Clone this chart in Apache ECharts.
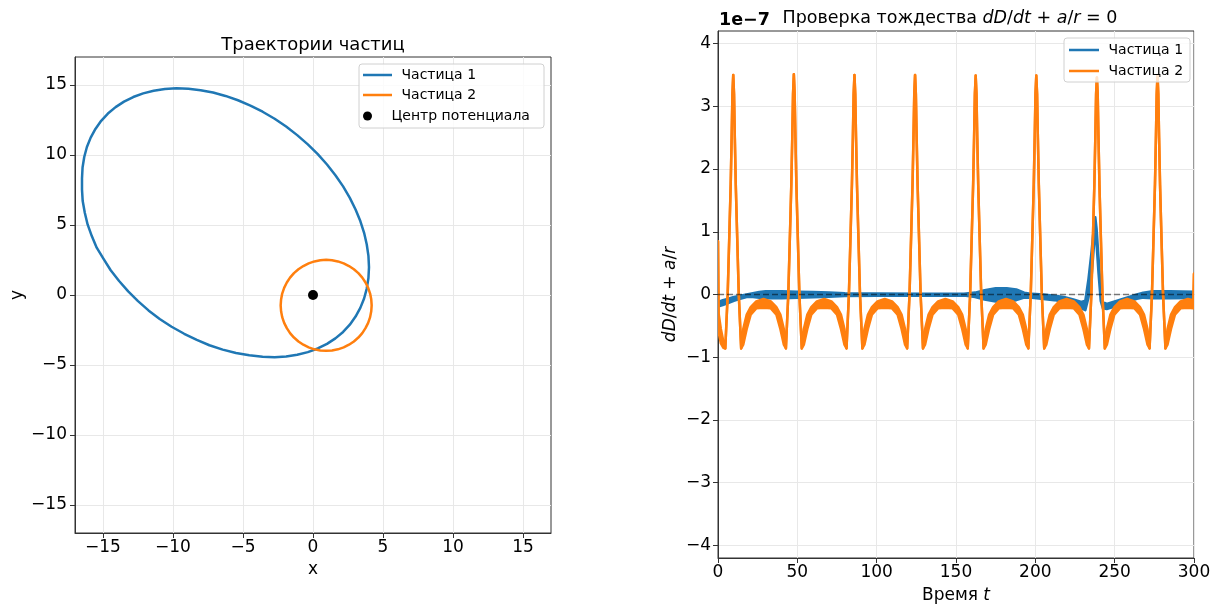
<!DOCTYPE html>
<html>
<head>
<meta charset="utf-8">
<title>Траектории частиц</title>
<script src="https://cdn.jsdelivr.net/npm/echarts@6/dist/echarts.min.js"></script>
<style>
  html, body { margin: 0; padding: 0; background: #fff; }
  #chart { width: 1227px; height: 610px; }
</style>
</head>
<body>
<div id="chart"></div>
<script>
const FONT = 'DejaVu Sans'
const BLUE = '#1f77b4'
const ORANGE = '#ff7f0e'

// left panel: closed orbits in the x-y plane
const xyTicks = [-15, -10, -5, 0, 5, 10, 15]
const orbit1 = [
  [4.0, 1.99], [3.96, 2.79], [3.84, 3.61], [3.65, 4.44], [3.38, 5.28], [3.04, 6.11],
  [2.63, 6.94], [2.15, 7.76], [1.6, 8.55], [1.0, 9.32], [0.34, 10.06], [-0.37, 10.76],
  [-1.13, 11.42], [-1.92, 12.03], [-2.74, 12.59], [-3.6, 13.09], [-4.47, 13.53], [-5.36, 13.91],
  [-6.25, 14.22], [-7.14, 14.46], [-8.03, 14.63], [-8.9, 14.73], [-9.76, 14.76], [-10.58, 14.71],
  [-11.38, 14.59], [-12.13, 14.4], [-12.84, 14.14], [-13.5, 13.81], [-14.1, 13.42], [-14.65, 12.96],
  [-15.13, 12.44], [-15.54, 11.86], [-15.88, 11.24], [-16.15, 10.57], [-16.34, 9.86], [-16.46, 9.11],
  [-16.5, 8.33], [-16.5, 7.53], [-16.45, 6.71], [-16.3, 5.88], [-16.1, 5.04], [-15.8, 4.21],
  [-15.45, 3.38], [-14.95, 2.56], [-14.45, 1.77], [-13.85, 1.0], [-13.2, 0.26], [-12.5, -0.44],
  [-11.75, -1.1], [-10.95, -1.71], [-10.1, -2.27], [-9.2, -2.77], [-8.3, -3.21], [-7.4, -3.59],
  [-6.45, -3.9], [-5.5, -4.14], [-4.55, -4.31], [-3.6, -4.41], [-2.74, -4.44], [-1.92, -4.39],
  [-1.13, -4.27], [-0.37, -4.08], [0.34, -3.82], [1.0, -3.49], [1.6, -3.1], [2.15, -2.64],
  [2.63, -2.12], [3.04, -1.54], [3.38, -0.92], [3.65, -0.25], [3.84, 0.46], [3.96, 1.21]
]
const orbit2 = [
  [4.19, -0.74], [4.16, -0.31], [4.08, 0.10], [3.94, 0.51], [3.75, 0.89], [3.52, 1.24],
  [3.24, 1.56], [2.92, 1.84], [2.57, 2.07], [2.19, 2.26], [1.78, 2.40], [1.36, 2.48],
  [0.94, 2.51], [0.52, 2.48], [0.10, 2.40], [-0.31, 2.26], [-0.69, 2.07], [-1.04, 1.84],
  [-1.36, 1.56], [-1.64, 1.24], [-1.87, 0.89], [-2.06, 0.51], [-2.20, 0.10], [-2.28, -0.32],
  [-2.31, -0.74], [-2.28, -1.16], [-2.20, -1.58], [-2.06, -1.99], [-1.87, -2.37], [-1.64, -2.72],
  [-1.36, -3.04], [-1.04, -3.32], [-0.69, -3.55], [-0.31, -3.74], [0.10, -3.88], [0.52, -3.96],
  [0.94, -3.99], [1.36, -3.96], [1.78, -3.88], [2.19, -3.74], [2.57, -3.55], [2.92, -3.32],
  [3.24, -3.04], [3.52, -2.72], [3.75, -2.37], [3.94, -1.99], [4.08, -1.58], [4.16, -1.16]
]
const centerPoint = [[0, 0]]

// right panel: dD/dt + a/r (units of 1e-7), rows are [t, upper edge, lower edge]
const dTicks = [-4, -3, -2, -1, 0, 1, 2, 3, 4]
const particle1 = [
  [0, -0.12, -0.19], [3, -0.09, -0.17], [6, -0.07, -0.14], [10, -0.04, -0.10],
  [14, -0.02, -0.07], [18, 0.0, -0.04], [22, 0.02, -0.04], [26, 0.04, -0.05],
  [30, 0.05, -0.06], [40, 0.05, -0.06], [50, 0.045, -0.05], [60, 0.04, -0.045],
  [70, 0.03, -0.035], [80, 0.02, -0.025], [100, 0.015, -0.02], [130, 0.012, -0.018],
  [155, 0.012, -0.018], [162, 0.03, -0.04], [168, 0.07, -0.08], [175, 0.1, -0.11],
  [182, 0.1, -0.11], [188, 0.08, -0.09], [193, 0.03, -0.05], [198, 0.01, -0.05],
  [205, 0.0, -0.07], [212, -0.02, -0.09], [218, -0.04, -0.12], [224, -0.08, -0.17],
  [229, -0.12, -0.22], [231.5, -0.1, -0.25], [233.5, 0.25, -0.05], [235.5, 0.7, 0.3],
  [237.0, 1.1, 0.8], [237.8, 1.23, 1.1], [238.6, 1.05, 0.8], [239.8, 0.6, 0.35],
  [241.2, 0.1, -0.1], [242.6, -0.12, -0.22], [245, -0.15, -0.23], [249, -0.12, -0.2],
  [254, -0.08, -0.16], [259, -0.04, -0.11], [264, 0.0, -0.07], [268, 0.03, -0.05],
  [274, 0.05, -0.06], [285, 0.05, -0.06], [300, 0.045, -0.055]
]
const particle2 = [
  [0, 0.85, 0.85], [0.4, -0.3, -0.6], [1.8, -0.55, -0.78], [3.4, -0.75, -0.85], [4.6, -0.86, -0.86],
  [6.1, 0, 0], [7.2, 1.0, 1.0], [8.0, 1.75, 1.75], [8.6, 2.5, 2.5], [9.1, 3.2, 3.2], [9.6, 3.5, 3.5],
  [10.1, 3.2, 3.2], [10.6, 2.5, 2.5], [11.2, 1.75, 1.75], [12.0, 1.0, 1.0], [13.1, 0, 0], [14.6, -0.86, -0.86],
  [15.9, -0.55, -0.8], [18.1, -0.32, -0.55], [20.6, -0.2, -0.32], [24.1, -0.11, -0.22], [28.7, -0.07, -0.21],
  [33.3, -0.11, -0.22], [36.8, -0.2, -0.32], [39.3, -0.32, -0.55], [41.5, -0.55, -0.8], [42.8, -0.86, -0.86],
  [44.3, 0, 0], [45.4, 1.0, 1.0], [46.2, 1.75, 1.75], [46.8, 2.5, 2.5], [47.3, 3.2, 3.2], [47.8, 3.51, 3.51],
  [48.3, 3.2, 3.2], [48.8, 2.5, 2.5], [49.4, 1.75, 1.75], [50.2, 1.0, 1.0], [51.3, 0, 0], [52.8, -0.86, -0.86],
  [54.1, -0.55, -0.8], [56.3, -0.32, -0.55], [58.8, -0.2, -0.32], [62.3, -0.11, -0.22], [66.9, -0.07, -0.21],
  [71.5, -0.11, -0.22], [75.0, -0.2, -0.32], [77.5, -0.32, -0.55], [79.7, -0.55, -0.8], [81.0, -0.86, -0.86],
  [82.5, 0, 0], [83.6, 1.0, 1.0], [84.4, 1.75, 1.75], [85.0, 2.5, 2.5], [85.5, 3.2, 3.2], [86.0, 3.5, 3.5],
  [86.5, 3.2, 3.2], [87.0, 2.5, 2.5], [87.6, 1.75, 1.75], [88.4, 1.0, 1.0], [89.5, 0, 0], [91.0, -0.86, -0.86],
  [92.3, -0.55, -0.8], [94.5, -0.32, -0.55], [97.0, -0.2, -0.32], [100.5, -0.11, -0.22], [105.1, -0.07, -0.21],
  [109.7, -0.11, -0.22], [113.2, -0.2, -0.32], [115.7, -0.32, -0.55], [117.9, -0.55, -0.8], [119.2, -0.86, -0.86],
  [120.7, 0, 0], [121.8, 1.0, 1.0], [122.6, 1.75, 1.75], [123.2, 2.5, 2.5], [123.7, 3.2, 3.2], [124.2, 3.5, 3.5],
  [124.7, 3.2, 3.2], [125.2, 2.5, 2.5], [125.8, 1.75, 1.75], [126.6, 1.0, 1.0], [127.7, 0, 0], [129.2, -0.86, -0.86],
  [130.5, -0.55, -0.8], [132.7, -0.32, -0.55], [135.2, -0.2, -0.32], [138.7, -0.11, -0.22], [143.3, -0.07, -0.21],
  [147.9, -0.11, -0.22], [151.4, -0.2, -0.32], [153.9, -0.32, -0.55], [156.1, -0.55, -0.8], [157.4, -0.86, -0.86],
  [158.9, 0, 0], [160.0, 1.0, 1.0], [160.8, 1.75, 1.75], [161.4, 2.5, 2.5], [161.9, 3.2, 3.2], [162.4, 3.49, 3.49],
  [162.9, 3.2, 3.2], [163.4, 2.5, 2.5], [164.0, 1.75, 1.75], [164.8, 1.0, 1.0], [165.9, 0, 0], [167.4, -0.86, -0.86],
  [168.7, -0.55, -0.8], [170.9, -0.32, -0.55], [173.4, -0.2, -0.32], [176.9, -0.11, -0.22], [181.5, -0.07, -0.21],
  [186.1, -0.11, -0.22], [189.6, -0.2, -0.32], [192.1, -0.32, -0.55], [194.3, -0.55, -0.8], [195.6, -0.86, -0.86],
  [197.1, 0, 0], [198.2, 1.0, 1.0], [199.0, 1.75, 1.75], [199.6, 2.5, 2.5], [200.1, 3.2, 3.2], [200.6, 3.49, 3.49],
  [201.1, 3.2, 3.2], [201.6, 2.5, 2.5], [202.2, 1.75, 1.75], [203.0, 1.0, 1.0], [204.1, 0, 0], [205.6, -0.86, -0.86],
  [206.9, -0.55, -0.8], [209.1, -0.32, -0.55], [211.6, -0.2, -0.32], [215.1, -0.11, -0.22], [219.7, -0.07, -0.21],
  [224.3, -0.11, -0.22], [227.8, -0.2, -0.32], [230.3, -0.32, -0.55], [232.5, -0.55, -0.8], [233.8, -0.86, -0.86],
  [235.3, 0, 0], [236.4, 1.0, 1.0], [237.2, 1.75, 1.75], [237.8, 2.5, 2.5], [238.3, 3.2, 3.2], [238.8, 3.46, 3.46],
  [239.3, 3.2, 3.2], [239.8, 2.5, 2.5], [240.4, 1.75, 1.75], [241.2, 1.0, 1.0], [242.3, 0, 0], [243.8, -0.86, -0.86],
  [245.1, -0.55, -0.8], [247.3, -0.32, -0.55], [249.8, -0.2, -0.32], [253.3, -0.11, -0.22], [257.9, -0.07, -0.21],
  [262.5, -0.11, -0.22], [266.0, -0.2, -0.32], [268.5, -0.32, -0.55], [270.7, -0.55, -0.8], [272.0, -0.86, -0.86],
  [273.5, 0, 0], [274.6, 1.0, 1.0], [275.4, 1.75, 1.75], [276.0, 2.5, 2.5], [276.5, 3.2, 3.2], [277.0, 3.5, 3.5],
  [277.5, 3.2, 3.2], [278.0, 2.5, 2.5], [278.6, 1.75, 1.75], [279.4, 1.0, 1.0], [280.5, 0, 0], [282.0, -0.86, -0.86],
  [283.3, -0.55, -0.8], [285.5, -0.32, -0.55], [288.0, -0.2, -0.32], [291.5, -0.11, -0.22], [296.1, -0.07, -0.21],
  [299.6, -0.09, -0.22], [300, 0.33, 0.33]
]

const minus = v => String(v).replace('-', '\u2212')

const mathRich = {
  n: { fontFamily: FONT, fontSize: 17, color: '#000' },
  i: { fontFamily: FONT, fontSize: 17, color: '#000', fontStyle: 'italic' }
}

// closed orbit drawn as one loop through the listed points
function orbitSeries(name, pts, color) {
  return {
    name, type: 'custom', xAxisIndex: 0, yAxisIndex: 0, data: pts,
    encode: { x: 0, y: 1 }, clip: true, silent: true, itemStyle: { color },
    renderItem(params, api) {
      if (params.dataIndex !== 0) return null
      return {
        type: 'polygon',
        shape: { points: pts.map(p => api.coord(p)) },
        style: { fill: 'none', stroke: color, lineWidth: 2.5, lineJoin: 'round' }
      }
    }
  }
}

// the dense oscillation is drawn as a filled band between its two edges
function bandSeries(name, rows, color, extra) {
  return Object.assign({
    name, type: 'custom', xAxisIndex: 1, yAxisIndex: 1, data: rows,
    encode: { x: 0, y: [1, 2] }, clip: true, silent: true,
    itemStyle: { color },
    renderItem(params, api) {
      if (params.dataIndex !== 0) return null
      const up = rows.map(r => api.coord([r[0], r[1]]))
      const lo = rows.map(r => api.coord([r[0], r[2]]))
      const edge = { stroke: color, lineWidth: 2.5, fill: null, lineJoin: 'round', lineCap: 'round' }
      return {
        type: 'group',
        children: [
          { type: 'polygon', shape: { points: up.concat(lo.slice().reverse()) }, style: { fill: color } },
          { type: 'polyline', shape: { points: up }, style: edge },
          { type: 'polyline', shape: { points: lo }, style: edge }
        ]
      }
    }
  }, extra || {})
}

function xyAxis(extra) {
  return Object.assign({
    type: 'value',
    axisLine: { show: true, onZero: false, lineStyle: { color: '#333' } },
    axisTick: { show: true, length: 5, lineStyle: { color: '#333' } },
    axisLabel: { fontFamily: FONT, fontSize: 17, color: '#000', formatter: minus },
    splitLine: { show: true, lineStyle: { color: '#e8e8e8', width: 1 } }
  }, extra)
}

const chart = echarts.init(document.getElementById('chart'))

chart.setOption({
  animation: false,
  textStyle: { fontFamily: FONT },
  grid: [
    { left: 75, top: 57, width: 476, height: 476, show: true, borderColor: '#333', borderWidth: 1 },
    { left: 718, top: 31, width: 476, height: 527, show: true, borderColor: '#333', borderWidth: 1 }
  ],
  xAxis: [
    xyAxis({
      gridIndex: 0, min: -17, max: 17, splitNumber: 7,
      axisTick: { show: true, length: 5, customValues: xyTicks, lineStyle: { color: '#333' } },
      axisLabel: { customValues: xyTicks, fontFamily: FONT, fontSize: 17, color: '#000', margin: 6, formatter: minus },
      name: 'x', nameLocation: 'middle', nameGap: 28,
      nameTextStyle: { fontFamily: FONT, fontSize: 17, color: '#000' }
    }),
    xyAxis({
      gridIndex: 1, min: 0, max: 300, interval: 50,
      axisLabel: { fontFamily: FONT, fontSize: 17, color: '#000', margin: 6 },
      name: '{n|Время }{i|t}', nameLocation: 'middle', nameGap: 29,
      nameTextStyle: { rich: mathRich }
    })
  ],
  yAxis: [
    xyAxis({
      gridIndex: 0, min: -17, max: 17, splitNumber: 7,
      axisTick: { show: true, length: 5, customValues: xyTicks, lineStyle: { color: '#333' } },
      axisLabel: { customValues: xyTicks, fontFamily: FONT, fontSize: 17, color: '#000', margin: 8, formatter: minus },
      name: 'y', nameLocation: 'middle', nameGap: 49,
      nameTextStyle: { fontFamily: FONT, fontSize: 17, color: '#000' }
    }),
    xyAxis({
      gridIndex: 1, min: -4.2, max: 4.2, splitNumber: 8,
      axisTick: { show: true, length: 5, customValues: dTicks, lineStyle: { color: '#333' } },
      axisLabel: { customValues: dTicks, fontFamily: FONT, fontSize: 17, color: '#000', margin: 7, formatter: minus },
      name: '{i|dD}{n|/}{i|dt}{n| + }{i|a}{n|/}{i|r}', nameLocation: 'middle', nameGap: 39,
      nameTextStyle: { rich: mathRich }
    })
  ],
  legend: [
    {
      data: [{ name: 'Частица 1', icon: 'rect' }, { name: 'Частица 2', icon: 'rect' }],
      orient: 'vertical', left: 363, top: 68, padding: 0, itemGap: 6,
      itemWidth: 29, itemHeight: 2.5, itemStyle: { borderWidth: 0 },
      formatter: n => ' ' + n, selectedMode: false, z: 10,
      textStyle: { fontFamily: FONT, fontSize: 14, color: '#000' }
    },
    {
      data: [{ name: 'Центр потенциала', icon: 'circle' }],
      orient: 'vertical', left: 363, top: 109, padding: 0,
      itemWidth: 29, itemHeight: 9, itemStyle: { borderWidth: 0, opacity: 1 },
      formatter: n => ' ' + n, selectedMode: false, z: 10,
      textStyle: { fontFamily: FONT, fontSize: 14, color: '#000' }
    },
    {
      data: [{ name: 'Частица 1', icon: 'rect' }, { name: 'Частица 2', icon: 'rect' }],
      orient: 'vertical', left: 1069, top: 43, padding: 0, itemGap: 7,
      itemWidth: 30, itemHeight: 2.5, itemStyle: { borderWidth: 0 },
      formatter: n => ' ' + n, selectedMode: false, z: 10,
      textStyle: { fontFamily: FONT, fontSize: 14, color: '#000' }
    }
  ],
  graphic: [
    {
      type: 'rect', z: 5, shape: { x: 359, y: 64, width: 185, height: 64, r: 3 },
      style: { fill: 'rgba(255,255,255,0.8)', stroke: '#d0d0d0', lineWidth: 1 }
    },
    {
      type: 'rect', z: 5, shape: { x: 1064, y: 38, width: 126, height: 44, r: 3 },
      style: { fill: 'rgba(255,255,255,0.8)', stroke: '#d0d0d0', lineWidth: 1 }
    },
    {
      type: 'text', x: 313, y: 45, z: 10,
      style: { text: 'Траектории частиц', font: '18px "DejaVu Sans"', fill: '#000', align: 'center', verticalAlign: 'middle' }
    },
    {
      type: 'text', x: 950, y: 18, z: 10,
      style: {
        text: '{n|Проверка тождества }{i|dD}{n|/}{i|dt}{n| + }{i|a}{n|/}{i|r}{n| = 0}',
        align: 'center', verticalAlign: 'middle',
        rich: {
          n: { fontFamily: FONT, fontSize: 17.5, fill: '#000' },
          i: { fontFamily: FONT, fontSize: 17.5, fill: '#000', fontStyle: 'italic' }
        }
      }
    },
    {
      type: 'text', x: 719, y: 20, z: 10,
      style: { text: '1e\u22127', font: 'bold 17.5px "DejaVu Sans"', fill: '#000', align: 'left', verticalAlign: 'middle' }
    }
  ],
  series: [
    orbitSeries('Частица 1', orbit1, BLUE),
    orbitSeries('Частица 2', orbit2, ORANGE),
    {
      name: 'Центр потенциала', type: 'scatter', xAxisIndex: 0, yAxisIndex: 0, data: centerPoint,
      symbolSize: 10, itemStyle: { color: '#000', opacity: 1 }, z: 3
    },
    bandSeries('Частица 1', particle1, BLUE, {
      markLine: {
        silent: true, symbol: ['none', 'none'], label: { show: false },
        lineStyle: { color: 'rgba(0,0,0,0.5)', type: [6, 3], width: 1.3 },
        data: [{ yAxis: 0 }]
      }
    }),
    bandSeries('Частица 2', particle2, ORANGE)
  ]
})
</script>
</body>
</html>
